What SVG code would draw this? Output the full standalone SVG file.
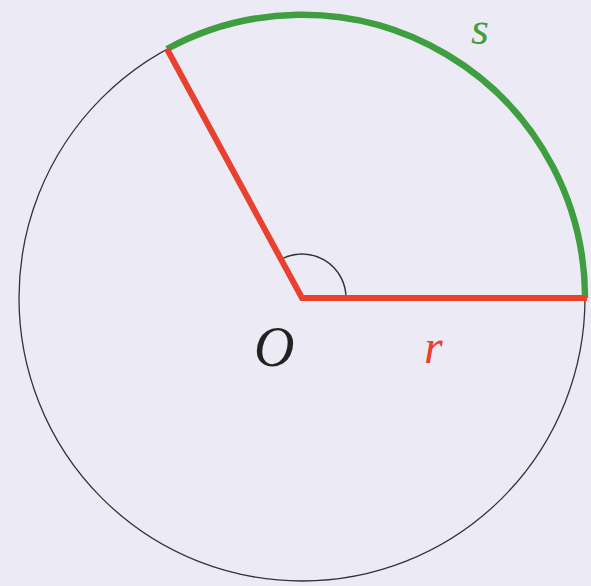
<svg xmlns="http://www.w3.org/2000/svg" width="591" height="586" viewBox="0 0 591 586">
<defs>
<style>
text{font-family:'Liberation Serif','Times New Roman',serif;font-style:italic}
</style>
</defs>
<rect width="591" height="586" fill="#ECEBF5"/>
<g id="circle"><circle cx="302" cy="298" r="283" fill="none" stroke="#333" stroke-width="1.3"/></g>
<g id="angle"><path d="M346 298 A44 44 0 0 0 281 259.3" fill="none" stroke="#333" stroke-width="1.5"/></g>
<g id="connectors">
<path d="M585 298 A283 283 0 0 0 167 49" fill="none" stroke="#3F9E3F" stroke-width="6.5"/>
<polyline points="167,49 302,298 587,298" fill="none" stroke="#E8412F" stroke-width="6" stroke-linejoin="miter"/>
</g>
<g id="labels">
<text x="471" y="44" font-size="46" fill="#3F9E3F" font-family="Liberation Serif, serif" font-style="italic">s</text>
<text x="254" y="366" font-size="56" fill="#222" font-family="Liberation Serif, serif" font-style="italic">O</text>
<text x="424" y="363" font-size="48" fill="#E8412F" font-family="Liberation Serif, serif" font-style="italic">r</text>
</g>
</svg>
